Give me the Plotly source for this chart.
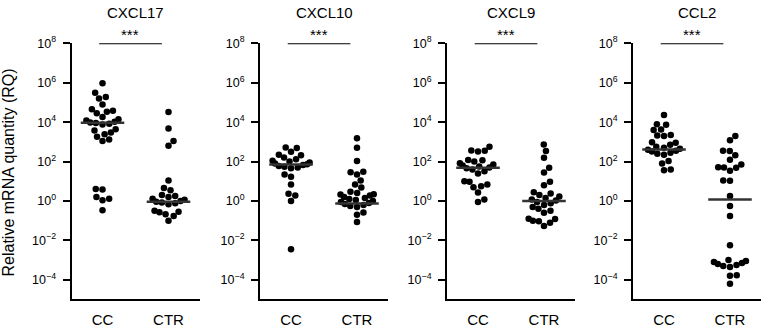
import numpy as np
import plotly.graph_objects as go

# ---------------- data ----------------
genes = ["CXCL17", "CXCL10", "CXCL9", "CCL2"]
groups = ["CC", "CTR"]
significance = ["***", "***", "***", "***"]

cxcl17_cc = [9.3e5, 3.1e5, 1.9e5, 1.6e5, 7.9e4, 4.5e4, 3.8e4, 3.4e4, 2.8e4,
             1.8e4, 1.4e4, 1.2e4, 1.05e4, 9.5e3, 8.9e3, 8.3e3, 7.6e3,
             4.3e3, 3.8e3, 3.0e3, 2.4e3, 1.8e3, 1.3e3, 1.1e3,
             4.0, 3.8, 1.6, 1.3, 1.1, 0.34]
cxcl17_ctr = [3.3e4, 4.8e3, 1.1e3, 630, 11, 4.5, 3.5,
              2.0, 1.8, 1.6, 1.3, 1.15, 1.0, 0.91, 0.83, 0.76, 0.69,
              0.32, 0.28, 0.27, 0.21, 0.17, 0.10]

cxcl10_cc = [520, 480, 310, 220, 210,
             160, 130, 110, 100, 89, 79, 72, 66, 60, 55, 50, 45,
             22, 17, 6.8, 2.3, 1.9, 1.0, 0.0035]
cxcl10_ctr = [1500, 500, 105, 30, 29, 22, 11, 6.8, 4.8,
              2.9, 2.5, 2.2, 2.1, 1.9,
              1.6, 1.4, 1.26, 1.12, 1.0, 0.89, 0.79, 0.71, 0.63, 0.56, 0.5,
              0.26, 0.2, 0.085]

cxcl9_cc = [560, 360, 350, 320, 120, 115,
            100, 83, 71, 63, 56, 50, 45, 40, 32, 25,
            10, 9.5, 6.8, 5.6, 5.0, 2.7, 1.2, 0.89]
cxcl9_ctr = [740, 340, 155, 48, 28, 9.3, 6.3,
             2.8, 2.4, 2.0, 1.7, 1.4, 1.2, 1.05, 0.89, 0.76, 0.63, 0.5, 0.4, 0.32, 0.25,
             0.126, 0.12, 0.1, 0.093, 0.079, 0.054]

ccl2_cc = [2.3e4, 7.9e3, 7.4e3, 4.2e3, 4.0e3, 2.2e3, 2.1e3, 2.0e3, 950, 910,
           710, 560, 500, 450, 400, 350, 320, 280, 250, 220,
           105, 79, 40, 36]
ccl2_ctr = [2.0e3, 1.2e3, 350, 340, 210, 125, 71, 52, 50, 48, 34, 11, 10.5, 1.8,
            0.56, 0.17, 0.0056,
            1.0e-3, 8.9e-4, 7.9e-4, 7.1e-4, 6.3e-4, 5.6e-4, 5.0e-4, 4.5e-4,
            1.7e-4, 1.6e-4, 6.3e-5]

median_cc = [9.3e3, 70, 48, 410]
median_ctr = [0.9, 0.75, 1.0, 1.2]

y_tickvals = [1e-4, 1e-2, 1, 1e2, 1e4, 1e6, 1e8]
y_ticktext = ["10<sup>\u22124</sup>", "10<sup>\u22122</sup>", "10<sup>0</sup>",
              "10<sup>2</sup>", "10<sup>4</sup>", "10<sup>6</sup>", "10<sup>8</sup>"]
y_title = "Relative mRNA quantity (RQ)"

panel_values = [(cxcl17_cc, cxcl17_ctr), (cxcl10_cc, cxcl10_ctr),
                (cxcl9_cc, cxcl9_ctr), (ccl2_cc, ccl2_ctr)]

# ---------------- layout geometry ----------------
W_FIG, H_FIG = 761, 329
panel_left = [71.5, 260, 447, 633]
panel_w = 128
x_range = [-0.47, 1.47]
px_per_x = panel_w / (x_range[1] - x_range[0])
y_top_px, y_bot_px = 43.3, 298.5
y_range = [-4.95, 8]
px_per_decade = (y_bot_px - y_top_px) / (y_range[1] - y_range[0])
FONT = "Liberation Sans, Arial, Helvetica, sans-serif"


def swarm(values, d=7.0, wmax=22.0):
    """Beeswarm offsets (in pixels) computed from the values."""
    y = np.log10(np.asarray(values, float)) * px_per_decade
    order = np.argsort(y, kind="stable")
    placed = []
    xs = np.zeros(len(y))
    for idx in order:
        yi = y[idx]
        cands = [0.0]
        for xj, yj in placed:
            dy = yi - yj
            if abs(dy) < d:
                dx = np.sqrt(d * d - dy * dy)
                cands += [xj + dx, xj - dx]

        def ok(x):
            return all((x - xj) ** 2 + (yi - yj) ** 2 >= d * d - 1e-6 for xj, yj in placed)

        valid = [c for c in cands if ok(c)]
        bias = sum(p[0] for p in placed)
        pref = -1 if bias > 0 else 1
        valid.sort(key=lambda c: (round(abs(c), 4), 0 if c * pref >= 0 else 1))
        x = valid[0]
        placed.append((x, yi))
        xs[idx] = x
    xs = wmax * np.tanh(xs / wmax)
    return xs / px_per_x


fig = go.Figure()
layout = dict(width=W_FIG, height=H_FIG, margin=dict(l=0, r=0, t=0, b=0),
              paper_bgcolor="white", plot_bgcolor="white", showlegend=False,
              font=dict(family=FONT, color="black"))
annotations = []

for i, gene in enumerate(genes):
    n = i + 1
    xa = "x" if n == 1 else f"x{n}"
    ya = "y" if n == 1 else f"y{n}"
    for g, vals in enumerate(panel_values[i]):
        offs = swarm(vals)
        fig.add_trace(go.Scatter(x=g + offs, y=vals, mode="markers",
                                 marker=dict(size=6.5, color="black"),
                                 xaxis=xa, yaxis=ya, cliponaxis=False,
                                 hoverinfo="skip"))
    for g, med in enumerate([median_cc[i], median_ctr[i]]):
        fig.add_trace(go.Scatter(x=[g - 0.33, g + 0.33], y=[med, med], mode="lines",
                                 line=dict(color="#333333", width=2.5),
                                 xaxis=xa, yaxis=ya, cliponaxis=False,
                                 hoverinfo="skip"))
    fig.add_trace(go.Scatter(x=[-0.05, 0.9], y=[y_tickvals[-1], y_tickvals[-1]],
                             mode="lines", line=dict(color="black", width=2),
                             xaxis=xa, yaxis=ya, cliponaxis=False, hoverinfo="skip"))

    x0 = panel_left[i] / W_FIG
    x1 = min(1.0, (panel_left[i] + panel_w) / W_FIG)
    layout["xaxis" if n == 1 else f"xaxis{n}"] = dict(
        domain=[x0, x1], range=x_range, anchor=ya, showline=True, linecolor="black",
        linewidth=2, showgrid=False, zeroline=False, ticks="",
        tickvals=[0, 1], ticktext=groups, tickfont=dict(size=15, family=FONT),
        ticklabelstandoff=6, automargin=False, fixedrange=True)
    layout["yaxis" if n == 1 else f"yaxis{n}"] = dict(
        domain=[1 - y_bot_px / H_FIG, 1 - y_top_px / H_FIG], type="log",
        range=y_range, anchor=xa, showline=True, linecolor="black", linewidth=2,
        showgrid=False, zeroline=False, ticks="outside", ticklen=7, tickwidth=2,
        tickcolor="black", tickvals=y_tickvals, ticktext=y_ticktext,
        tickfont=dict(size=12.5, family=FONT), ticklabelstandoff=4,
        automargin=False, fixedrange=True)

    annotations.append(dict(text=gene, xref=xa, yref="paper", x=0.5, y=1 - 12 / H_FIG,
                            xanchor="center", yanchor="middle", showarrow=False,
                            font=dict(size=15, family=FONT)))
    annotations.append(dict(text=significance[i], xref=xa, yref="paper", x=0.42,
                            y=1 - 45 / H_FIG, xanchor="center", yanchor="bottom",
                            showarrow=False, font=dict(size=15, family=FONT)))

annotations.append(dict(text=y_title, xref="paper", yref="paper", x=8 / W_FIG,
                        y=1 - 172.5 / H_FIG, xanchor="center", yanchor="middle",
                        textangle=-90, showarrow=False, font=dict(size=16, family=FONT)))
layout["annotations"] = annotations
fig.update_layout(**layout)
fig.write_html("out.html", config={"displayModeBar": False, "staticPlot": True},
               post_script="document.body.style.margin='0';document.body.style.overflow='hidden';")
